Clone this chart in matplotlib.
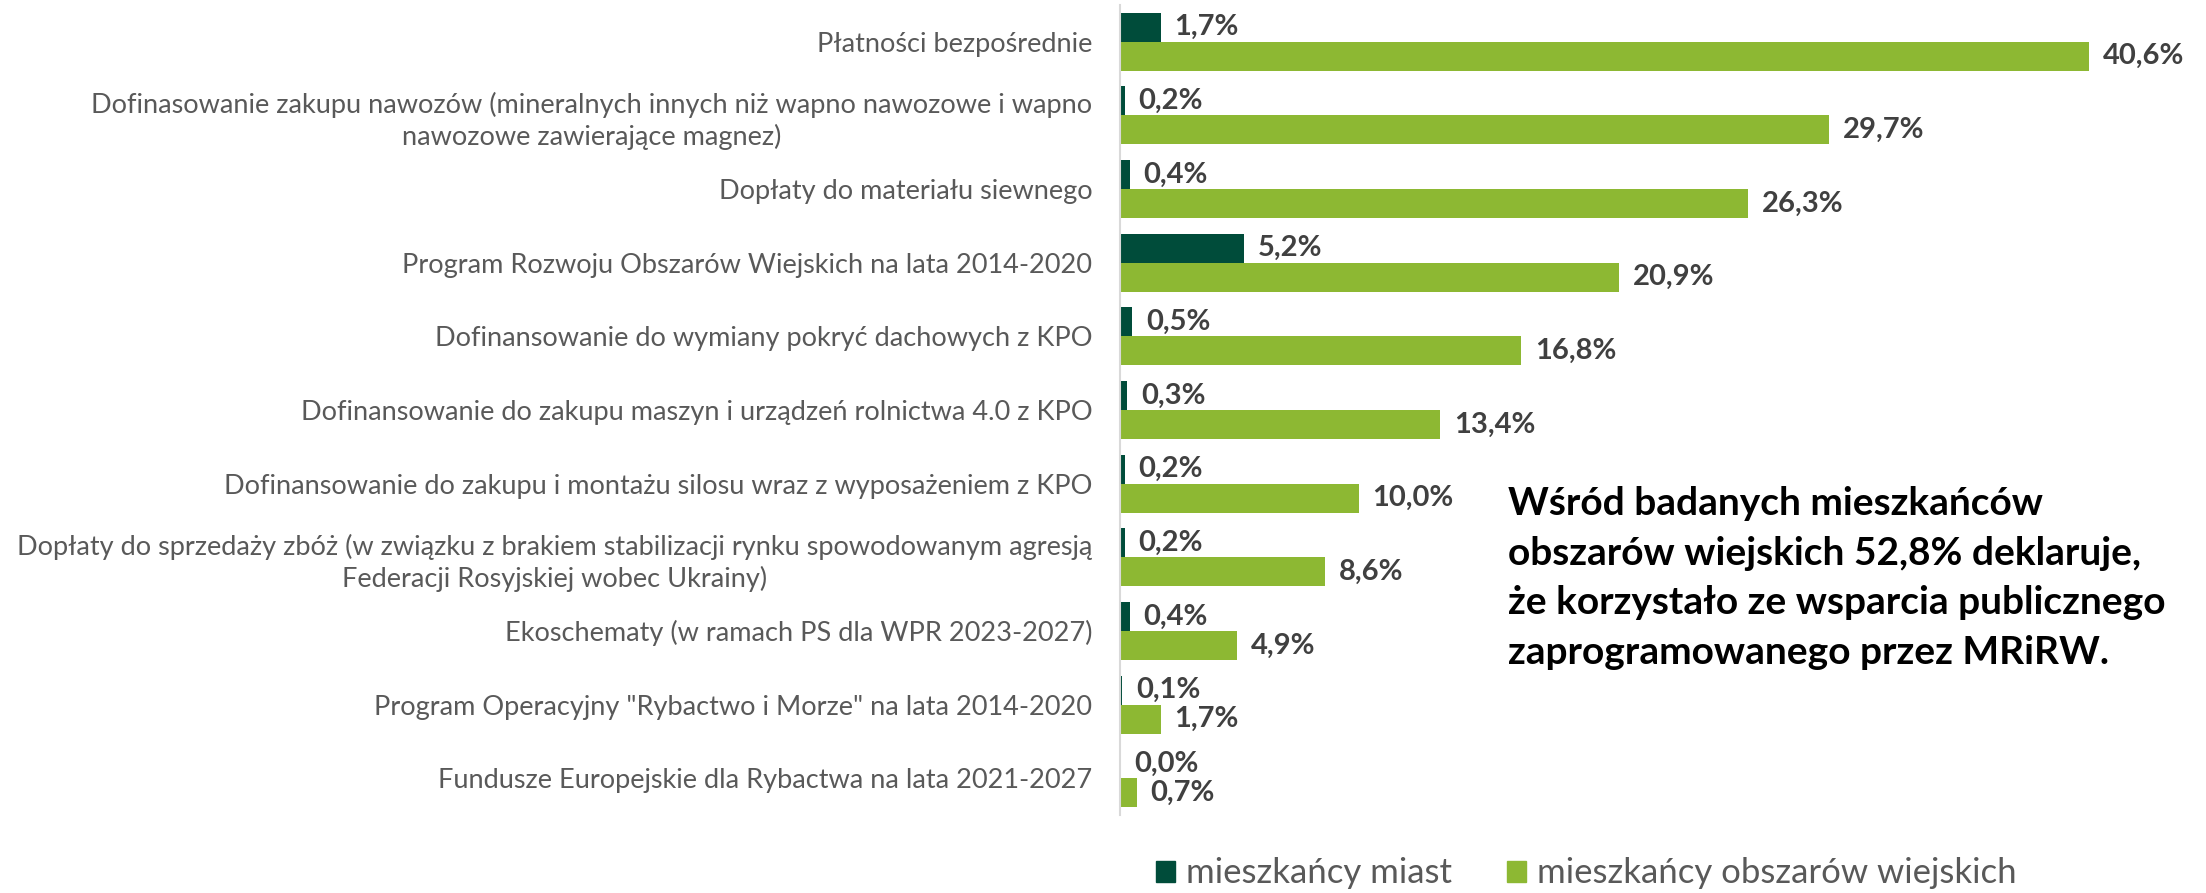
import numpy as np
import matplotlib.pyplot as plt
from matplotlib.patches import Patch

plt.rcParams['font.family'] = ['Lato', 'DejaVu Sans']

categories = [
    'Płatności bezpośrednie',
    'Dofinasowanie zakupu nawozów (mineralnych innych niż wapno nawozowe i wapno\nnawozowe zawierające magnez)',
    'Dopłaty do materiału siewnego',
    'Program Rozwoju Obszarów Wiejskich na lata 2014-2020',
    'Dofinansowanie do wymiany pokryć dachowych z KPO',
    'Dofinansowanie do zakupu maszyn i urządzeń rolnictwa 4.0 z KPO',
    'Dofinansowanie do zakupu i montażu silosu wraz z wyposażeniem z KPO',
    'Dopłaty do sprzedaży zbóż (w związku z brakiem stabilizacji rynku spowodowanym agresją\nFederacji Rosyjskiej wobec Ukrainy)',
    'Ekoschematy (w ramach PS dla WPR 2023-2027)',
    'Program Operacyjny "Rybactwo i Morze" na lata 2014-2020',
    'Fundusze Europejskie dla Rybactwa na lata 2021-2027',
]
miasto = [1.7, 0.2, 0.4, 5.2, 0.5, 0.3, 0.2, 0.2, 0.4, 0.1, 0.0]
wies = [40.6, 29.7, 26.3, 20.9, 16.8, 13.4, 10.0, 8.6, 4.9, 1.7, 0.7]
series_names = ['mieszkańcy miast', 'mieszkańcy obszarów wiejskich']

note = ('Wśród badanych mieszkańców\n'
        'obszarów wiejskich 52,8% deklaruje,\n'
        'że korzystało ze wsparcia publicznego\n'
        'zaprogramowanego przez MRiRW.')

dark = '#004C3A'
green = '#8DB833'
label_col = '#404040'
cat_col = '#595959'


def fmt(v):
    return f'{v:.1f}'.replace('.', ',') + '%'


fig = plt.figure(figsize=(22.06, 8.93), dpi=100)
ax = fig.add_axes([0.5077, 0.0873, 0.487, 0.9071])

y = np.arange(len(categories))
h = 0.394
b1 = ax.barh(y - h / 2, miasto, height=h, color=dark)
b2 = ax.barh(y + h / 2, wies, height=h, color=green)

for bars, vals in ((b1, miasto), (b2, wies)):
    for bar, v in zip(bars, vals):
        ax.annotate(fmt(v), (v, bar.get_y() + bar.get_height() / 2),
                    xytext=(10, 0), textcoords='offset points',
                    ha='left', va='center', fontsize=21, fontweight='bold',
                    color=label_col)

ax.set_xlim(0, 45)
ax.set_ylim(len(categories) - 0.5, -0.5)
ax.set_yticks(y)
ax.set_yticklabels(categories, fontsize=19.5, color=cat_col, ma='center',
                   linespacing=1.3)
ax.tick_params(axis='y', length=0, pad=20)
ax.set_xticks([])
for s in ['top', 'right', 'bottom']:
    ax.spines[s].set_visible(False)
ax.spines['left'].set_color('#D9D9D9')
ax.spines['left'].set_linewidth(1.5)

fig.text(0.6836, 0.353, note, ha='left', va='center', fontsize=28,
         fontweight='bold', color='black', linespacing=1.5)

handles = [Patch(color=dark), Patch(color=green)]
fig.legend(handles, series_names, loc='center', bbox_to_anchor=(0.719, 0.022),
           ncol=2, frameon=False, fontsize=25, labelcolor=cat_col,
           handlelength=0.55, handleheight=0.55, handletextpad=0.3,
           columnspacing=1.6)

fig.savefig('out.png', dpi=100)
